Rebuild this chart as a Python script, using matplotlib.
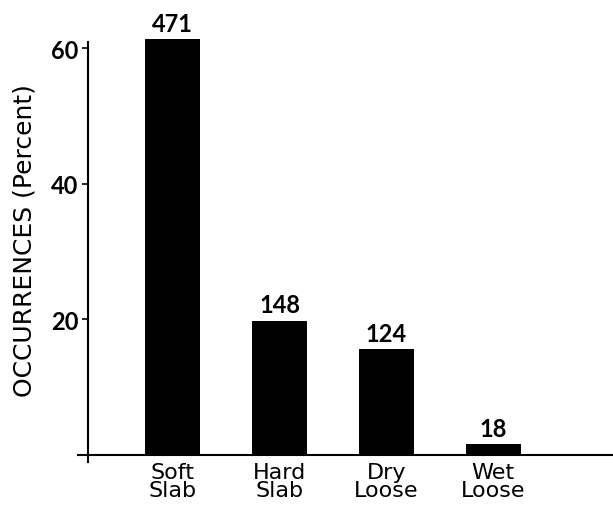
import matplotlib.pyplot as plt

# 雪崩種類與發生次數
categories = ["Soft\nSlab", "Hard\nSlab", "Dry\nLoose", "Wet\nLoose"]
percent = [61.3, 19.8, 15.6, 1.6]
counts = [471, 148, 124, 18]
yticks = [20, 40, 60]

plt.rcParams['font.family'] = ['DejaVu Sans']

fig = plt.figure(figsize=(6.13, 5.10), dpi=100)
ax = fig.add_axes([0.144, 0.0922, 0.856, 0.8235])

x = range(len(categories))
bars = ax.bar(x, percent, width=0.52, color='black', clip_on=False)

for b, n in zip(bars, counts):
    ax.text(b.get_x() + b.get_width() / 2, b.get_height() + 0.7, str(n),
            ha='center', va='bottom', fontsize=17, family='Lato',
            fontweight='bold', clip_on=False)

ax.set_xlim(-0.79, 4.12)
ax.set_ylim(-1.0, 60.9)
ax.set_yticks(yticks)
ax.set_yticklabels([str(t) for t in yticks], fontsize=17, family='Lato',
                   fontweight='bold')
ax.tick_params(axis='y', direction='out', length=4, width=1.2, pad=3)
ax.set_xticks(list(x))
ax.set_xticklabels(categories, fontsize=16, linespacing=0.9)
ax.tick_params(axis='x', length=0, pad=0)

for s in ['top', 'right', 'bottom']:
    ax.spines[s].set_visible(False)
ax.spines['left'].set_linewidth(1.5)
ax.axhline(0, xmin=-0.02, xmax=1, color='black', lw=1.5, clip_on=False)

ax.set_ylabel("OCCURRENCES (Percent)", fontsize=18)
ax.yaxis.set_label_coords(-0.098, 0.53)

fig.savefig("out.png", dpi=100)
